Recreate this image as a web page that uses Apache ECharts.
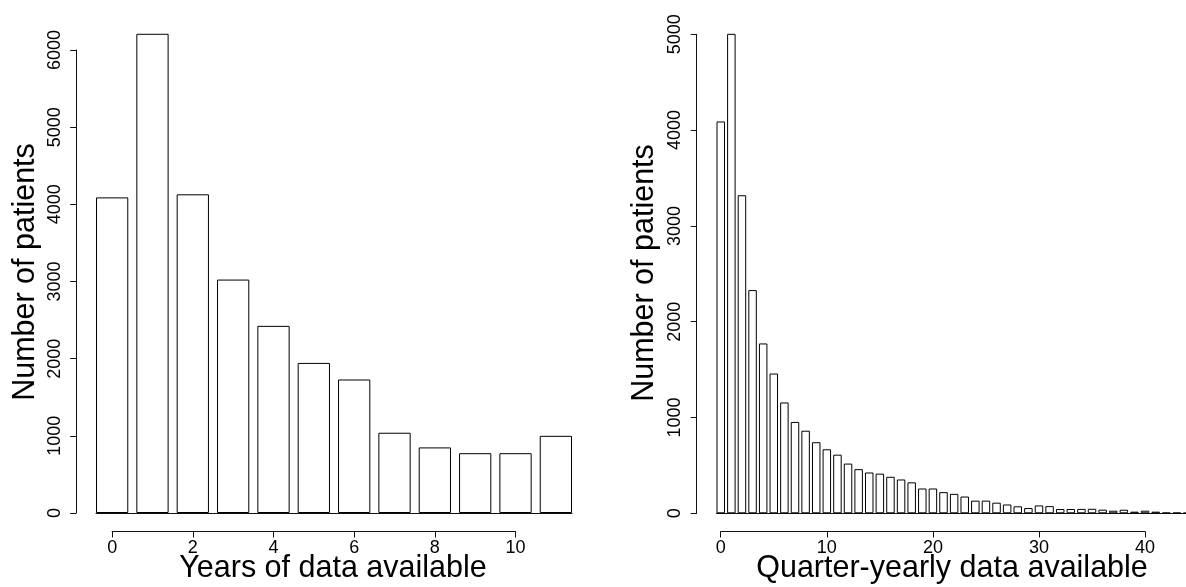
<!DOCTYPE html>
<html>
<head>
<meta charset="utf-8">
<script src="https://cdn.jsdelivr.net/npm/echarts@6/dist/echarts.min.js"></script>
<style>
html,body{margin:0;padding:0;background:#fff;}
#chart{width:1186px;height:587px;}
</style>
</head>
<body>
<div id="chart"></div>
<script>
// ---- data ----
const yearCats = [0, 1, 2, 3, 4, 5, 6, 7, 8, 9, 10, 11];
const yearCounts = [4090, 6210, 4130, 3025, 2425, 1945, 1730, 1040, 850, 775, 775, 1000];
const yearXTicks = [0, 2, 4, 6, 8, 10];
const yearYTicks = [0, 1000, 2000, 3000, 4000, 5000, 6000];

const quarterCats = [0,1,2,3,4,5,6,7,8,9,10,11,12,13,14,15,16,17,18,19,20,21,22,23,24,25,26,27,28,29,30,31,32,33,34,35,36,37,38,39,40,41,42,43,44];
const quarterCounts = [4090, 5005, 3320, 2330, 1773, 1459, 1157, 954, 862, 742,
                       668, 612, 519, 461, 426, 414, 381, 353, 323, 259,
                       259, 221, 203, 175, 132, 132, 111, 92, 73, 55,
                       82, 75, 45, 45, 46, 47, 38, 27, 37, 17,
                       27, 17, 6, 6, 4];
const quarterXTicks = [0, 10, 20, 30, 40];
const quarterYTicks = [0, 1000, 2000, 3000, 4000, 5000];

const xTitleLeft = 'Years of data available';
const xTitleRight = 'Quarter-yearly data available';
const yTitle = 'Number of patients';

// ---- layout ----
const FONT = '"Liberation Sans", Arial, sans-serif';
const TITLE_FONT = '30.5px ' + FONT;
const BAR_FRAC = 0.8;
const L = { left: 96, right: 572, top: 50, base: 513, xmin: -0.4 };
L.unit = (L.right - L.left) / (yearCats.length - 1 + 2 * 0.4);
L.xmax = L.xmin + (L.right - L.left) / L.unit;
const R = { left: 716.5, right: 1186, top: 34.3, base: 513.3, xmin: -0.4, unit: 10.608 };
R.xmax = R.xmin + (R.right - R.left) / R.unit;
const AXIS_GAP = 19.8;   // distance between y axis line and plot area
const X_AXIS_Y = 531.5;  // y of offset x axis line

function xpx(P, v) { return P.left + (v - P.xmin) * P.unit; }

const lineStyle = { color: '#111', width: 1 };
const labelStyle = { color: '#000', fontSize: 18, fontFamily: FONT };

function mainGrid(P) {
  return { left: P.left, top: P.top, width: P.right - P.left, height: P.base - P.top,
           containLabel: false, outerBoundsMode: 'none' };
}
function tickGrid(P, ticks) {
  const a = xpx(P, ticks[0]), b = xpx(P, ticks[ticks.length - 1]);
  return { left: a, top: X_AXIS_Y - 1, width: b - a, height: 1, containLabel: false, outerBoundsMode: 'none' };
}
function baseXAxis(grid, P) {
  return { gridIndex: grid, type: 'value', min: P.xmin, max: P.xmax,
    axisLine: { show: true, onZero: false, lineStyle },
    axisTick: { show: false }, axisLabel: { show: false }, splitLine: { show: false } };
}
function tickXAxis(grid, ticks) {
  return { gridIndex: grid, type: 'value', min: ticks[0], max: ticks[ticks.length - 1],
    interval: ticks[1] - ticks[0],
    axisLine: { show: true, onZero: false, lineStyle },
    axisTick: { show: true, length: 6, lineStyle },
    axisLabel: Object.assign({ margin: 8, formatter: v => String(v) }, labelStyle),
    splitLine: { show: false } };
}
function countYAxis(grid, ticks) {
  return { gridIndex: grid, type: 'value', min: ticks[0], max: ticks[ticks.length - 1],
    interval: ticks[1] - ticks[0], offset: AXIS_GAP,
    axisLine: { show: true, onZero: false, lineStyle },
    axisTick: { show: true, length: 6, lineStyle },
    axisLabel: Object.assign({ rotate: 90, margin: 12.5, formatter: v => String(v) }, labelStyle),
    splitLine: { show: false } };
}

const option = {
  backgroundColor: '#fff',
  animation: false,
  grid: [mainGrid(L), mainGrid(R), tickGrid(L, yearXTicks), tickGrid(R, quarterXTicks)],
  xAxis: [baseXAxis(0, L), baseXAxis(1, R), tickXAxis(2, yearXTicks), tickXAxis(3, quarterXTicks)],
  yAxis: [
    countYAxis(0, yearYTicks),
    countYAxis(1, quarterYTicks),
    { gridIndex: 2, type: 'value', show: false, axisLine: { onZero: false } },
    { gridIndex: 3, type: 'value', show: false, axisLine: { onZero: false } }
  ],
  series: [
    { type: 'bar', xAxisIndex: 0, yAxisIndex: 0, clip: false,
      barWidth: BAR_FRAC * L.unit,
      data: yearCats.map((c, i) => [c, yearCounts[i]]),
      itemStyle: { color: '#fff', borderColor: '#000', borderWidth: 1 } },
    { type: 'bar', xAxisIndex: 1, yAxisIndex: 1, clip: true,
      barWidth: BAR_FRAC * R.unit,
      data: quarterCats.map((c, i) => [c, quarterCounts[i]]),
      itemStyle: { color: '#fff', borderColor: '#000', borderWidth: 1 } }
  ],
  graphic: [
    { type: 'text', x: 26, y: 272, rotation: Math.PI / 2,
      style: { text: yTitle, font: TITLE_FONT, fill: '#000', align: 'center', verticalAlign: 'middle' } },
    { type: 'text', x: 645, y: 273, rotation: Math.PI / 2,
      style: { text: yTitle, font: TITLE_FONT, fill: '#000', align: 'center', verticalAlign: 'middle' } },
    { type: 'text', x: 333, y: 568.7,
      style: { text: xTitleLeft, font: TITLE_FONT, fill: '#000', align: 'center', verticalAlign: 'middle' } },
    { type: 'text', x: 952, y: 568.7,
      style: { text: xTitleRight, font: TITLE_FONT, fill: '#000', align: 'center', verticalAlign: 'middle' } }
  ]
};

const chart = echarts.init(document.getElementById('chart'), null, { renderer: 'canvas' });
chart.setOption(option);
</script>
</body>
</html>
